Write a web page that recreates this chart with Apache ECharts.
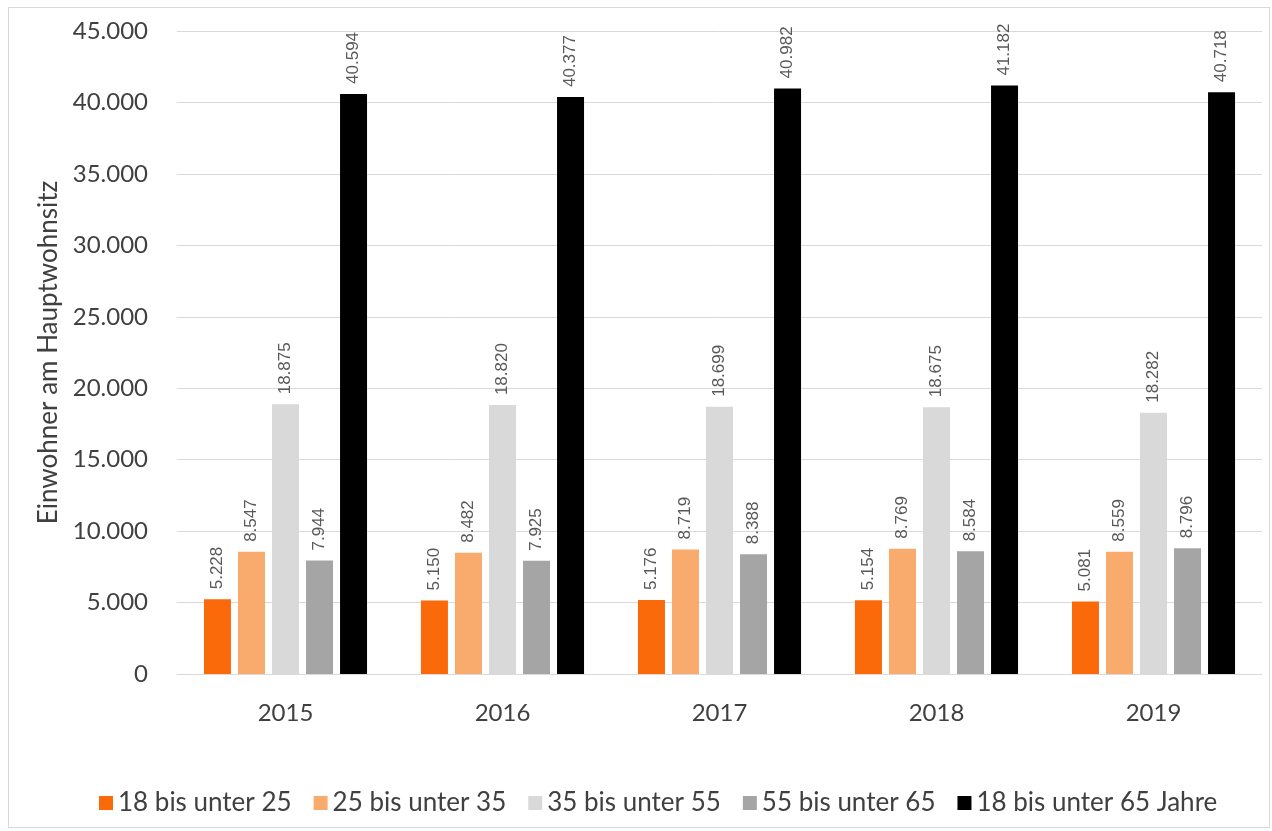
<!DOCTYPE html>
<html>
<head>
<meta charset="utf-8">
<script src="https://cdn.jsdelivr.net/npm/echarts@6/dist/echarts.min.js"></script>
<style>
  html, body { margin: 0; padding: 0; background: #fff; }
  #frame { position: absolute; left: 8px; top: 7px; width: 1262px; height: 821px; border: 1px solid #d9d9d9; box-sizing: border-box; }
  #chart { position: absolute; left: 0; top: 0; width: 1272px; height: 831px; }
</style>
</head>
<body>
<div id="frame"></div>
<div id="chart"></div>
<script>
const years = ['2015', '2016', '2017', '2018', '2019'];
const seriesNames = ['18 bis unter 25', '25 bis unter 35', '35 bis unter 55', '55 bis unter 65', '18 bis unter 65 Jahre'];
const age18to25 = [5228, 5150, 5176, 5154, 5081];
const age25to35 = [8547, 8482, 8719, 8769, 8559];
const age35to55 = [18875, 18820, 18699, 18675, 18282];
const age55to65 = [7944, 7925, 8388, 8584, 8796];
const age18to65 = [40594, 40377, 40982, 41182, 40718];
const colors = ['#FA6A0A', '#F8AB6C', '#D9D9D9', '#A5A5A5', '#000000'];

const fmt = v => v.toLocaleString('de-DE');
const font = 'Lato, "Liberation Sans", sans-serif';

const chart = echarts.init(document.getElementById('chart'), null, { renderer: 'canvas' });
const allData = [age18to25, age25to35, age35to55, age55to65, age18to65];

chart.setOption({
  animation: false,
  color: colors,
  grid: { left: 177, right: 10, top: 31, bottom: 157, containLabel: false },
  legend: {
    bottom: 10,
    left: 94,
    itemWidth: 14,
    itemHeight: 14,
    itemGap: 22,
    icon: 'rect',
    textStyle: { fontFamily: font, fontSize: 26, color: '#404040' },
    data: seriesNames
  },
  xAxis: {
    type: 'category',
    data: years,
    axisLine: { lineStyle: { color: '#d9d9d9' } },
    axisTick: { show: false },
    axisLabel: { fontFamily: font, fontSize: 24, color: '#404040', margin: 27 }
  },
  yAxis: {
    type: 'value',
    min: 0,
    max: 45000,
    interval: 5000,
    name: 'Einwohner am Hauptwohnsitz',
    nameLocation: 'middle',
    nameGap: 111,
    nameTextStyle: { fontFamily: font, fontSize: 26, color: '#404040' },
    axisLine: { show: false },
    axisTick: { show: false },
    axisLabel: { fontFamily: font, fontSize: 24, color: '#404040', margin: 29, formatter: fmt },
    splitLine: { lineStyle: { color: '#d9d9d9' } }
  },
  series: seriesNames.map((name, i) => ({
    name,
    type: 'bar',
    data: allData[i],
    barWidth: 27,
    barGap: '26%',
    label: {
      show: true,
      position: 'top',
      rotate: 90,
      align: 'left',
      verticalAlign: 'middle',
      distance: 10,
      fontFamily: '"Liberation Sans", Arial, sans-serif',
      fontSize: 17,
      color: '#595959',
      formatter: p => fmt(p.value)
    }
  }))
});
</script>
</body>
</html>
